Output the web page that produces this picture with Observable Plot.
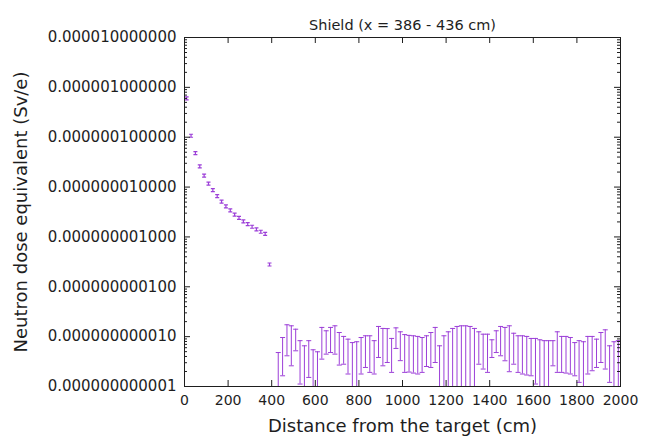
<!DOCTYPE html>
<html><head><meta charset="utf-8">
<script src="https://cdn.jsdelivr.net/npm/d3@7"></script>
<script src="https://cdn.jsdelivr.net/npm/@observablehq/plot@0.6"></script>
<style>body{margin:0;background:#fff;}</style>
</head><body><div id="chart"></div>
<script>
const title = "Shield (x = 386 - 436 cm)";
const xLabel = "Distance from the target (cm)";
const yLabel = "Neutron dose equivalent (Sv/e)";
const xTicks = [0, 200, 400, 600, 800, 1000, 1200, 1400, 1600, 1800, 2000];
const yTicks = [1e-12, 1e-11, 1e-10, 1e-9, 1e-8, 1e-7, 1e-6, 1e-5];

// points close to the target
const nearX = [10, 30, 50, 70, 90, 110, 130, 150, 170, 190, 210, 230, 250, 270, 290, 310, 330, 350, 370, 390];
const nearDose = [6.0e-7, 1.07e-7, 4.8e-8, 2.6e-8, 1.7e-8, 1.17e-8, 8.7e-9, 6.6e-9, 5.1e-9, 4.1e-9,
  3.4e-9, 2.8e-9, 2.4e-9, 2.05e-9, 1.8e-9, 1.6e-9, 1.42e-9, 1.27e-9, 1.15e-9, 2.8e-10];

// far points with error bars (upper / lower ends; null = lower end below axis)
const farX = [430, 450, 470, 490, 510, 530, 550, 570, 590, 610, 630, 650, 670, 690, 710, 730, 750, 770, 790, 810,
  830, 850, 870, 890, 910, 930, 950, 970, 990, 1010, 1030, 1050, 1070, 1090, 1110, 1130, 1150, 1170, 1190, 1210,
  1230, 1250, 1270, 1290, 1310, 1330, 1350, 1370, 1390, 1410, 1430, 1450, 1470, 1490, 1510, 1530, 1550, 1570, 1590, 1610,
  1630, 1650, 1670, 1690, 1710, 1730, 1750, 1770, 1790, 1810, 1830, 1850, 1870, 1890, 1910, 1930, 1950, 1970, 1990];
const farUpper = [4.8e-12, 9.6e-12, 1.73e-11, 1.65e-11, 1.41e-11, 8.3e-12, 6.55e-12, 8.3e-12, 5.45e-12, 4.97e-12,
  1.53e-11, 1.31e-11, 1.53e-11, 1.65e-11, 1.21e-11, 1.01e-11, 8.9e-12, 7.6e-12, 7.9e-12, 9.6e-12,
  1.04e-11, 1.04e-11, 8.3e-12, 1.6e-11, 1.46e-11, 1.45e-11, 9.2e-12, 1.5e-11, 1.25e-11, 1.1e-11,
  1.06e-11, 1.04e-11, 1.01e-11, 9.6e-12, 1.04e-11, 1.21e-11, 1.53e-11, 6.55e-12, 1.04e-11, 1.25e-11,
  1.46e-11, 1.6e-11, 1.65e-11, 1.65e-11, 1.6e-11, 1.46e-11, 1.25e-11, 1.12e-11, 1.12e-11, 8.65e-12,
  1.31e-11, 1.6e-11, 1.53e-11, 1.65e-11, 1.17e-11, 1.04e-11, 1.04e-11, 1.01e-11, 9.2e-12, 9.2e-12,
  8.65e-12, 8.3e-12, 8.3e-12, 8.3e-12, 1.25e-11, 1.01e-11, 1.01e-11, 9.6e-12, 7.6e-12, 8.3e-12,
  7.9e-12, 1.01e-11, 1.01e-11, 8.9e-12, 1.21e-11, 1.37e-11, 6.55e-12, 7.9e-12, 8.3e-12];
const farLower = [null, 1.64e-12, 4.13e-12, 2.6e-12, 5.2e-12, 1.12e-12, null, 1.52e-12, null, null,
  3.54e-12, 4.46e-12, 4.8e-12, 4.46e-12, 2.69e-12, 2.8e-12, 1.78e-12, null, null, 1.78e-12,
  2.41e-12, 1.92e-12, 1.78e-12, 3.82e-12, 2.6e-12, 3.03e-12, 1.92e-12, 5.8e-12, 3.3e-12, 1.92e-12,
  1.95e-12, 1.86e-12, 1.78e-12, 1.92e-12, 2.52e-12, 2.41e-12, 3.03e-12, null, null, null,
  null, null, null, null, null, null, 2.8e-12, 2.24e-12, 1.92e-12, 3.82e-12,
  4.8e-12, 4.13e-12, 3.28e-12, 1.98e-12, 2.8e-12, 1.92e-12, 1.78e-12, 1.7e-12, 1.64e-12, 1.12e-12,
  null, null, null, 2.6e-12, 1.92e-12, 1.92e-12, 1.86e-12, 1.78e-12, 1.64e-12, 1.21e-12,
  null, 1.78e-12, 2.07e-12, 2.41e-12, 3.03e-12, 2.24e-12, 1.21e-12, null, null];

const C = "#9c3fd8";
const INK = "#1e1e1e";
const W = 650 - 184 - 30, H = 442 - 37 - 56;
const yMin = yTicks[0];

const near = nearX.map((x, i) => ({x, y: nearDose[i]}));
const far = farX.map((x, i) => ({x, hi: farUpper[i], lo: farLower[i] ?? yMin, capped: farLower[i] != null}));
const minorY = d3.scaleLog().domain([yTicks[0], yTicks[yTicks.length - 1]]).ticks()
  .filter(v => Math.abs(Math.log10(v) - Math.round(Math.log10(v))) > 1e-6);

const capSym = {draw(ctx) { ctx.moveTo(-2.5, 0); ctx.lineTo(2.5, 0); }};
const smallBar = {draw(ctx) {
  ctx.moveTo(-2, -1.5); ctx.lineTo(2, -1.5);
  ctx.moveTo(-2, 1.5); ctx.lineTo(2, 1.5);
  ctx.moveTo(0, -1.5); ctx.lineTo(0, 1.5);
}};

const chart = Plot.plot({
  width: 650, height: 442,
  marginLeft: 184, marginRight: 30, marginTop: 37, marginBottom: 56,
  style: {fontFamily: "DejaVu Sans", fontSize: "15px", color: INK, background: "#fff"},
  x: {domain: [0, 2000]},
  y: {type: "log", domain: [yTicks[0], yTicks[yTicks.length - 1]]},
  marks: [
    Plot.ruleX(far, {x: "x", y1: "lo", y2: "hi", stroke: C, strokeWidth: 1, clip: true}),
    Plot.dot(far, {x: "x", y: "hi", symbol: capSym, stroke: C, fill: "none", strokeWidth: 1}),
    Plot.dot(far.filter(d => d.capped), {x: "x", y: "lo", symbol: capSym, stroke: C, fill: "none", strokeWidth: 1}),
    Plot.dot(near, {x: "x", y: "y", symbol: smallBar, stroke: C, fill: "none", strokeWidth: 1.2}),
    // inward ticks
    Plot.tickY(yTicks, {y: d => d, insetRight: W - 6, stroke: INK}),
    Plot.tickY(yTicks, {y: d => d, insetLeft: W - 6, stroke: INK}),
    Plot.tickY(minorY, {y: d => d, insetRight: W - 3, stroke: INK}),
    Plot.tickY(minorY, {y: d => d, insetLeft: W - 3, stroke: INK}),
    Plot.tickX(xTicks, {x: d => d, insetTop: H - 6, stroke: INK}),
    Plot.tickX(xTicks, {x: d => d, insetBottom: H - 6, stroke: INK}),
    Plot.frame({stroke: INK, strokeWidth: 1}),
    Plot.axisY(yTicks, {tickSize: 0, tickPadding: 8, tickFormat: d => d.toFixed(12), fontSize: 15, label: null}),
    Plot.axisX(xTicks, {tickSize: 0, tickPadding: 9, tickFormat: d => `${d}`, fontSize: 14, label: null}),
    Plot.text([title], {text: d => d, frameAnchor: "top", dy: -18, fontSize: 14.5, fill: INK}),
    Plot.text([xLabel], {text: d => d, frameAnchor: "bottom", dy: 45, fontSize: 18, fill: INK}),
    Plot.text([yLabel], {text: d => d, frameAnchor: "left", textAnchor: "middle", dx: -163, rotate: -90, fontSize: 18, fill: INK})
  ]
});
document.getElementById("chart").appendChild(chart);
</script>
</body></html>
